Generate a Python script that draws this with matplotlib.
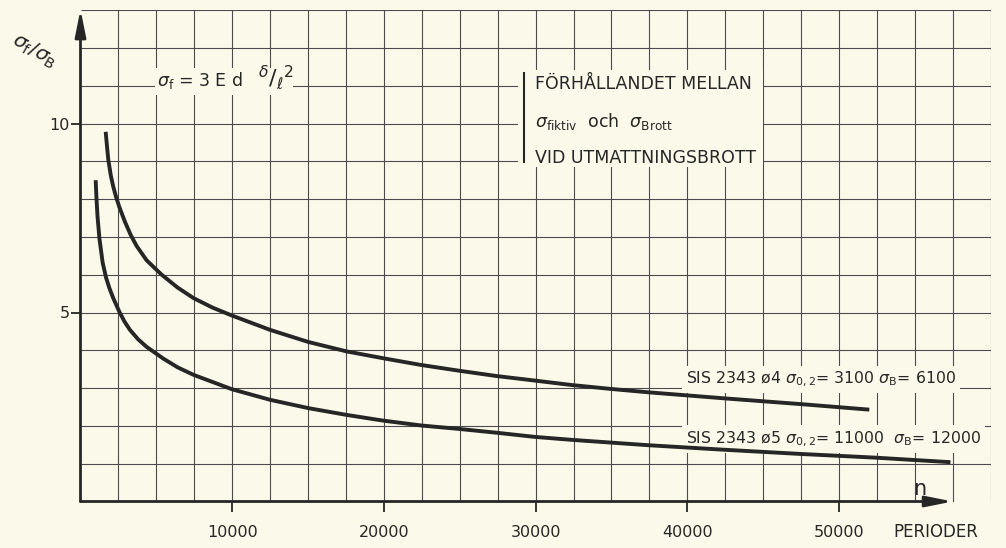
import numpy as np
import matplotlib.pyplot as plt
from matplotlib.patches import Rectangle

# SIS 2343 ø4  (sigma_0,2 = 3100, sigma_B = 6100) - upper curve
n_4 = [1660, 1750, 1830, 2000, 2160, 2350, 2560, 2930, 3300, 3700, 4360,
       5350, 6400, 7455, 8700, 9980, 12500, 15020, 17550, 19950, 22480,
       24950, 27410, 29930, 32410, 34910, 37390, 42400, 47370, 52000]
ratio_4 = [9.78, 9.38, 9.05, 8.62, 8.33, 8.05, 7.79, 7.40, 7.06, 6.76, 6.38,
           6.00, 5.66, 5.38, 5.13, 4.92, 4.54, 4.22, 3.97, 3.79, 3.61,
           3.46, 3.32, 3.20, 3.08, 2.98, 2.89, 2.73, 2.58, 2.43]

# SIS 2343 ø5  (sigma_0,2 = 11000, sigma_B = 12000) - lower curve
n_5 = [1000, 1050, 1120, 1250, 1460, 1680, 1900, 2160, 2560, 2900, 3260,
       3800, 4360, 5460, 6400, 7455, 9980, 12500, 15020, 17550, 19950,
       22480, 24950, 27410, 29930, 32410, 34910, 37390, 42400, 47370,
       52400, 57350]
ratio_5 = [8.50, 8.05, 7.55, 6.95, 6.32, 5.93, 5.65, 5.38, 5.02, 4.76, 4.54,
           4.29, 4.09, 3.78, 3.55, 3.35, 2.97, 2.69, 2.47, 2.29, 2.14,
           2.01, 1.92, 1.82, 1.71, 1.63, 1.56, 1.49, 1.37, 1.26,
           1.16, 1.04]

x_ticks = [10000, 20000, 30000, 40000, 50000]
y_ticks = [5, 10]

label_4 = r"SIS 2343 ø4 $\sigma_{0,2}$= 3100 $\sigma_{\rm B}$= 6100"
label_5 = r"SIS 2343 ø5 $\sigma_{0,2}$= 11000  $\sigma_{\rm B}$= 12000"

bg = "#fbfaea"
grid_c = "#4a4a50"
ink = "#262626"

fig = plt.figure(figsize=(10.06, 5.48), dpi=100, facecolor=bg)
ax = fig.add_axes([80.5 / 1006, 46.5 / 548, 910.2 / 1006, 491.4 / 548])
ax.set_facecolor(bg)
ax.set_xlim(0, 60000)
ax.set_ylim(0, 13)
for s in ax.spines.values():
    s.set_visible(False)

# millimetre-paper style grid
ax.vlines(np.arange(2500, 60001, 2500), 0, 13, color=grid_c, lw=0.8, zorder=1)
ax.hlines(np.arange(1, 14), 0, 60000, color=grid_c, lw=0.8, zorder=1)

# axes with arrows
arr = dict(arrowstyle="-|>,head_length=0.65,head_width=0.13", lw=2.0,
           color=ink, shrinkA=0, shrinkB=0, mutation_scale=25)
ax.annotate("", xy=(0, 13.02), xytext=(0, 0), arrowprops=arr,
            annotation_clip=False, zorder=4)
ax.annotate("", xy=(57500, 0), xytext=(0, 0), arrowprops=arr,
            annotation_clip=False, zorder=4)

ax.plot(n_4, ratio_4, color=ink, lw=2.8, solid_capstyle="butt", zorder=7)
ax.plot(n_5, ratio_5, color=ink, lw=2.8, solid_capstyle="butt", zorder=7)

ax.set_xticks(x_ticks)
ax.set_xticklabels([str(v) for v in x_ticks])
ax.set_yticks(y_ticks)
ax.set_yticklabels([str(v) for v in y_ticks])
ax.tick_params(axis="x", direction="out", length=7, width=1.3, pad=10,
               colors=ink, labelsize=11.5)
ax.tick_params(axis="y", direction="out", length=7, width=1.3, pad=1,
               colors=ink, labelsize=11.5)

ax.text(56400, -0.81, "PERIODER", ha="center", va="center", fontsize=12,
        color=ink, clip_on=False)
ax.text(55350, 0.33, "n", ha="center", va="center", fontsize=15, color=ink)
ax.text(-3065, 11.92, r"$\sigma_{\rm f}/\sigma_{\rm B}$", ha="center",
        va="center", fontsize=14.5, rotation=-30, color=ink, clip_on=False)

# formula, with the grid blanked behind it
ax.add_patch(Rectangle((4910, 10.75), 14010 - 4910, 11.47 - 10.75,
                       fc=bg, ec="none", zorder=2))
ax.text(5040, 11.15, r"$\sigma_{\rm f}$ = 3 E d", ha="left",
        va="center", fontsize=12.5, color=ink, zorder=6)
ax.text(11700, 11.2, r"${}^{\delta}/{}_{\ell}{}^{2}$", ha="left",
        va="center", fontsize=16, color=ink, zorder=6)

# title block
ax.add_patch(Rectangle((28840, 8.85), 45000 - 28840, 11.42 - 8.85,
                       fc=bg, ec="none", zorder=2))
ax.vlines(29240, 8.95, 11.36, color=ink, lw=1.5, zorder=3)
ax.text(29960, 10.91, "FÖRHÅLLANDET MELLAN", ha="left", va="baseline",
        fontsize=12.5, color=ink, zorder=6)
ax.text(29960, 9.90, r"$\sigma_{\rm fiktiv}$  och  $\sigma_{\rm Brott}$",
        ha="left", va="baseline", fontsize=12.5, color=ink, zorder=6)
ax.text(29960, 8.95, "VID UTMATTNINGSBROTT", ha="left", va="baseline",
        fontsize=12.5, color=ink, zorder=6)

box = dict(boxstyle="square,pad=0.25", fc=bg, ec="none")
ax.text(39910, 3.13, label_4, ha="left", va="baseline", fontsize=11.3,
        color=ink, bbox=box, zorder=6)
ax.text(39910, 1.55, label_5, ha="left", va="baseline", fontsize=11.3,
        color=ink, bbox=box, zorder=6)

fig.savefig("out.png", dpi=100, facecolor=bg)
